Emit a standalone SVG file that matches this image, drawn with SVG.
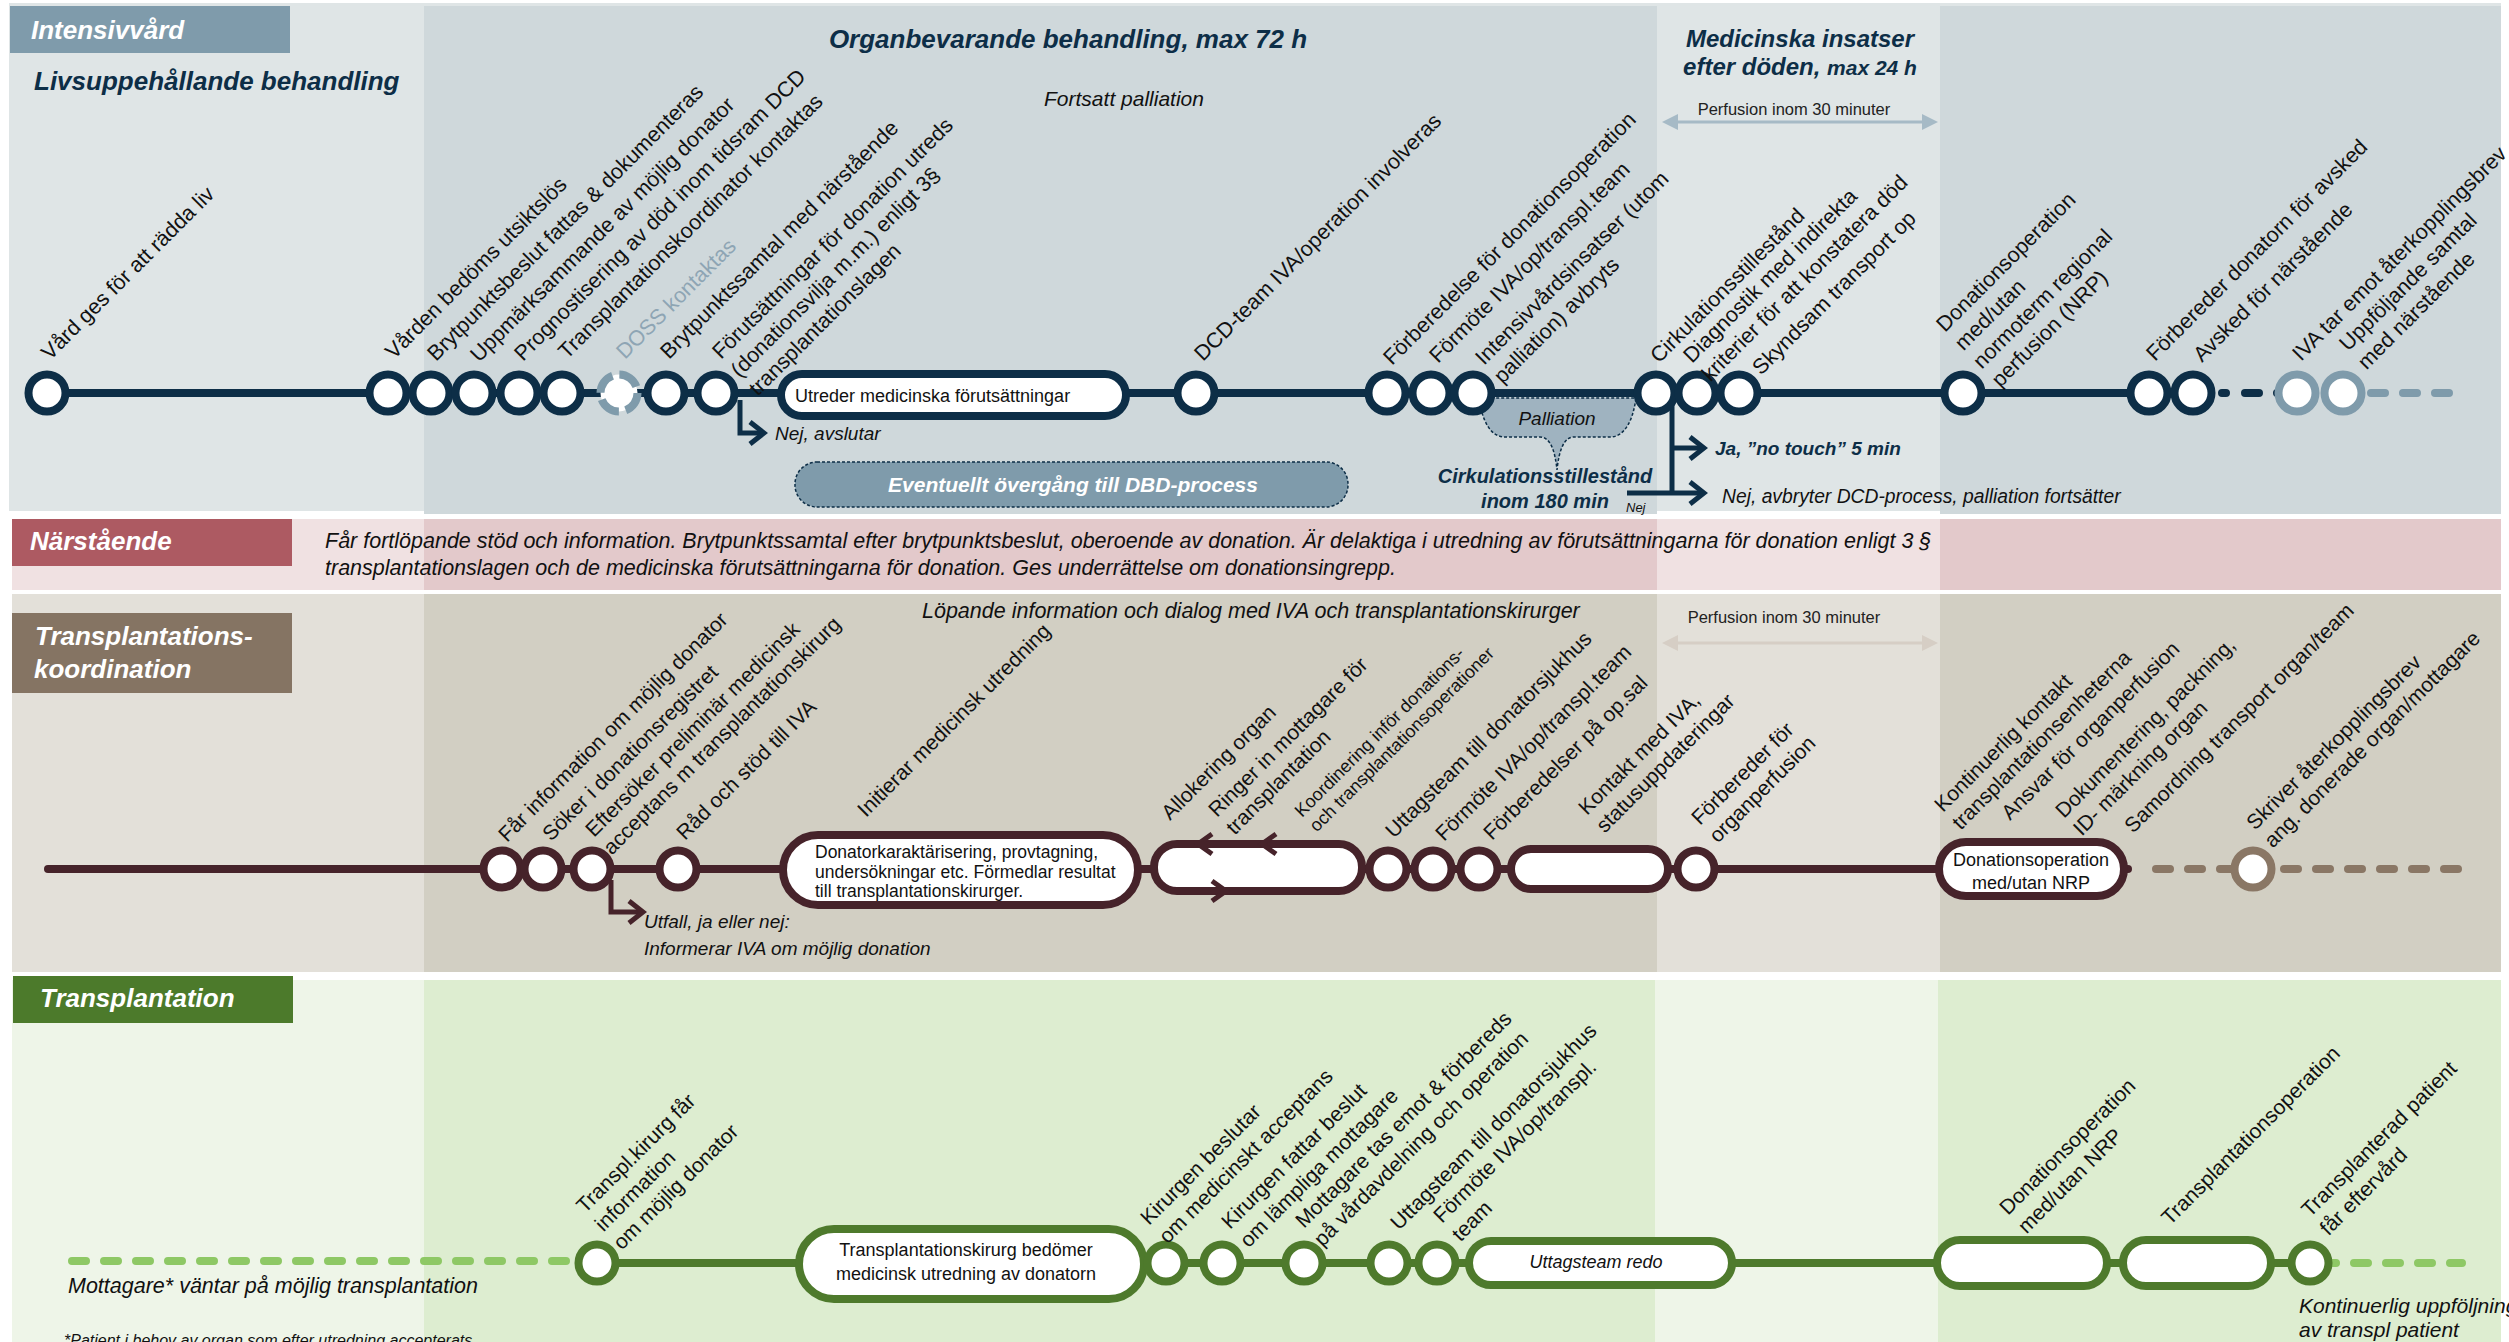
<svg xmlns="http://www.w3.org/2000/svg" width="2509" height="1342" viewBox="0 0 2509 1342">
<defs>
<style>
.t{font-family:"Liberation Sans",Arial,Helvetica,sans-serif}
.hd{font-family:"Liberation Sans",Arial,sans-serif;font-weight:bold;font-style:italic;font-size:26px;fill:#fff}
.ttl{font-family:"Liberation Sans",Arial,sans-serif;font-weight:bold;font-style:italic;fill:#0d2e47}
.l1{font-size:21.5px;fill:#111}
.l3{font-size:21px;fill:#111}
.l4{font-size:21px;fill:#111}
.it{font-style:italic}
.bx{font-size:18px;fill:#111}
.n1{fill:#fff;stroke:#0d2e47;stroke-width:8}
.n1g{fill:#fff;stroke:#7f9bab;stroke-width:8}
.n3{fill:#fff;stroke:#46232a;stroke-width:8}
.n3g{fill:#fff;stroke:#8a7765;stroke-width:8}
.n4{fill:#fff;stroke:#4e7a2c;stroke-width:8}
.ln1{stroke:#0d2e47;stroke-width:8;fill:none;stroke-linecap:round}
.ln3{stroke:#46232a;stroke-width:8;fill:none;stroke-linecap:round}
.ln4{stroke:#4e7a2c;stroke-width:8;fill:none;stroke-linecap:round}
.dash{stroke-width:8;fill:none;stroke-linecap:round;stroke-dasharray:14 18}
.arN{stroke:#0d2e47;stroke-width:5;fill:none}
.arM{stroke:#46232a;stroke-width:5;fill:none}
</style>
<marker id="chevN" viewBox="-18 -15 22 30" refX="0" refY="0" markerWidth="22" markerHeight="30" markerUnits="userSpaceOnUse" orient="auto">
<path d="M-14,-11 L0,0 L-14,11" fill="none" stroke="#0d2e47" stroke-width="5"/>
</marker>
<marker id="chevM" viewBox="-18 -15 22 30" refX="0" refY="0" markerWidth="22" markerHeight="30" markerUnits="userSpaceOnUse" orient="auto">
<path d="M-14,-11 L0,0 L-14,11" fill="none" stroke="#46232a" stroke-width="5"/>
</marker>
<marker id="triB" viewBox="0 -8 16 16" refX="0" refY="0" markerWidth="16" markerHeight="16" markerUnits="userSpaceOnUse" orient="auto-start-reverse">
<path d="M0,-8 L16,0 L0,8 Z" fill="#a6bac6"/>
</marker>
<marker id="triT" viewBox="0 -8 16 16" refX="0" refY="0" markerWidth="16" markerHeight="16" markerUnits="userSpaceOnUse" orient="auto-start-reverse">
<path d="M0,-8 L16,0 L0,8 Z" fill="#d6cec5"/>
</marker>
</defs>

<rect width="2509" height="1342" fill="#fff"/>

<!-- Band backgrounds -->
<g id="bands">
<rect x="9" y="3" width="2492" height="508" fill="#dfe5e6"/>
<rect x="424" y="6" width="1233" height="508" fill="#cfd8db"/>
<rect x="1940" y="6" width="561" height="508" fill="#cfd8db"/>
<rect x="12" y="519" width="2489" height="71" fill="#f0e1e2"/>
<rect x="424" y="519" width="1233" height="71" fill="#e3c9cb"/>
<rect x="1940" y="519" width="561" height="71" fill="#e3c9cb"/>
<rect x="12" y="594" width="2489" height="378" fill="#e3e0d9"/>
<rect x="424" y="594" width="1233" height="378" fill="#d2cfc3"/>
<rect x="1940" y="594" width="561" height="378" fill="#d2cfc3"/>
<rect x="12" y="980" width="2489" height="362" fill="#eef5e8"/>
<rect x="424" y="980" width="1231" height="362" fill="#ddedd0"/>
<rect x="1938" y="980" width="563" height="362" fill="#ddedd0"/>
</g>

<!-- Lane headers and titles -->
<g id="headers">
<rect x="10" y="6" width="280" height="47" fill="#7f9bab"/>
<text class="hd" x="31" y="39">Intensivvård</text>
<rect x="12" y="519" width="280" height="47" fill="#ad5a62"/>
<text class="hd" x="30" y="550">Närstående</text>
<rect x="12" y="613" width="280" height="80" fill="#857463"/>
<text class="hd" x="35" y="645">Transplantations-</text>
<text class="hd" x="34" y="678">koordination</text>
<rect x="13" y="976" width="280" height="47" fill="#4c7a2b"/>
<text class="hd" x="40" y="1007">Transplantation</text>
<text class="ttl" x="34" y="90" font-size="26">Livsuppehållande behandling</text>
<text class="ttl" x="1068" y="48" font-size="26" text-anchor="middle">Organbevarande behandling, max 72 h</text>
<text class="ttl" x="1800" y="47" font-size="24" text-anchor="middle">Medicinska insatser</text>
<text class="ttl" x="1800" y="75" font-size="24" text-anchor="middle">efter döden, <tspan font-size="21">max 24 h</tspan></text>
<text class="t it" x="1124" y="106" font-size="21" text-anchor="middle" fill="#111">Fortsatt palliation</text>
<text class="t" x="1794" y="115" font-size="16.5" text-anchor="middle" fill="#222">Perfusion inom 30 minuter</text>
<text class="t" x="1784" y="623" font-size="16.5" text-anchor="middle" fill="#222">Perfusion inom 30 minuter</text>
<text class="t it" x="325" y="548" font-size="21.5" fill="#111">Får fortlöpande stöd och information. Brytpunktssamtal efter brytpunktsbeslut, oberoende av donation. Är delaktiga i utredning av förutsättningarna för donation enligt 3 §</text>
<text class="t it" x="325" y="575" font-size="21.5" fill="#111">transplantationslagen och de medicinska förutsättningarna för donation. Ges underrättelse om donationsingrepp.</text>
<text class="t it" x="922" y="618" font-size="21.5" fill="#111">Löpande information och dialog med IVA och transplantationskirurger</text>
<text class="t it" x="68" y="1293" font-size="21.5" fill="#111">Mottagare* väntar på möjlig transplantation</text>
<text class="t it" x="64" y="1346" font-size="16" fill="#111">*Patient i behov av organ som efter utredning accepterats</text>
<text class="t it" x="2299" y="1313" font-size="21" fill="#111">Kontinuerlig uppföljning</text>
<text class="t it" x="2299" y="1337" font-size="21" fill="#111">av transpl patient</text>
</g>

<!-- Connectors -->
<g id="connectors">
<line x1="1678" y1="122" x2="1922" y2="122" stroke="#a6bac6" stroke-width="3" marker-start="url(#triB)" marker-end="url(#triB)"/>
<line x1="1678" y1="643" x2="1922" y2="643" stroke="#d6cec5" stroke-width="3" marker-start="url(#triT)" marker-end="url(#triT)"/>
<!-- lane 1 -->
<path class="ln1" d="M47,393 H2193"/>
<path class="ln1" d="M2222,393 H2226 M2245,393 H2259 M2277,393 H2278"/>
<path class="dash" stroke="#7f9bab" d="M2371,393 H2449"/>
<path class="arN" d="M740,400 V433 H764" marker-end="url(#chevN)"/>
<path class="arN" d="M1672,405 V493 M1672,448 H1704" marker-end="url(#chevN)"/>
<path class="arN" d="M1627,493 H1704" marker-end="url(#chevN)"/>
<!-- lane 3 -->
<path class="ln3" d="M48,869 H2128"/>
<path class="dash" stroke="#8a7765" d="M2156,869 H2458"/>
<path class="arM" d="M611,880 V912 H643" marker-end="url(#chevM)"/>
<!-- lane 4 -->
<path class="dash" stroke="#8ec865" d="M72,1261 H566"/>
<path class="ln4" d="M597,1263 H2310"/>
<path class="dash" stroke="#8ec865" d="M2322,1263 H2462"/>
</g>

<!-- Lane 1 extras -->
<g id="palliation">
<path d="M1479,398 C1482,420 1490,437 1505,437 L1540,437 C1550,437 1555,450 1557,470 C1559,450 1564,437 1574,437 L1610,437 C1625,437 1633,420 1636,398 Z" fill="#9fb3c0" stroke="#0d2e47" stroke-width="1.5" stroke-dasharray="3 2"/>
<text class="t it" x="1557" y="425" font-size="19" text-anchor="middle" fill="#111">Palliation</text>
</g>
<g id="cirk-180">
<text class="ttl" x="1545" y="483" font-size="20" text-anchor="middle">Cirkulationsstillestånd</text>
<text class="ttl" x="1545" y="508" font-size="20" text-anchor="middle">inom 180 min</text>
<text class="t it" x="1626" y="512" font-size="13" fill="#111">Nej</text>
</g>
<g id="branch-texts">
<text class="t it" x="775" y="440" font-size="19" fill="#111">Nej, avslutar</text>
<text class="ttl" x="1715" y="455" font-size="19">Ja, ”no touch” 5 min</text>
<text class="t it" x="1722" y="503" font-size="19.3" fill="#111">Nej, avbryter DCD-process, palliation fortsätter</text>
<text class="t it" x="644" y="928" font-size="19" fill="#111">Utfall, ja eller nej:</text>
<text class="t it" x="644" y="955" font-size="19" fill="#111">Informerar IVA om möjlig donation</text>
</g>
<g id="dbd">
<rect x="795" y="462" width="553" height="45" rx="22" fill="#7f9bab" stroke="#0d2e47" stroke-width="1.5" stroke-dasharray="3 2"/>
<text class="ttl" x="1073" y="492" font-size="21" text-anchor="middle" style="fill:#fff">Eventuellt övergång till DBD-process</text>
</g>

<!-- Lane 1 nodes -->
<g id="iva-1"><circle class="n1" cx="47" cy="393" r="18.5"/><text class="t l1" transform="translate(50,361) rotate(-45)">Vård ges för att rädda liv</text></g>
<g id="iva-2"><circle class="n1" cx="388" cy="393" r="18.5"/><text class="t l1" transform="translate(394,360) rotate(-45)">Vården bedöms utsiktslös</text></g>
<g id="iva-3"><circle class="n1" cx="431" cy="393" r="18.5"/><text class="t l1" transform="translate(436,362) rotate(-45)">Brytpunktsbeslut fattas &amp; dokumenteras</text></g>
<g id="iva-4"><circle class="n1" cx="474" cy="393" r="18.5"/><text class="t l1" transform="translate(479,363) rotate(-45)">Uppmärksammande av möjlig donator</text></g>
<g id="iva-5"><circle class="n1" cx="519" cy="393" r="18.5"/><text class="t l1" transform="translate(523,362) rotate(-45)">Prognostisering av död inom tidsram DCD</text></g>
<g id="iva-6"><circle class="n1" cx="562" cy="393" r="18.5"/><text class="t l1" transform="translate(567,360) rotate(-45)">Transplantationskoordinator kontaktas</text></g>
<g id="iva-7"><circle class="n1g" cx="619" cy="393" r="18.5" stroke-dasharray="22 7"/><text class="t l1" transform="translate(625,360) rotate(-45)" style="fill:#8ea5b4">DOSS kontaktas</text></g>
<g id="iva-8"><circle class="n1" cx="666" cy="393" r="18.5"/><text class="t l1" transform="translate(669,360) rotate(-45)">Brytpunktssamtal med närstående</text></g>
<g id="iva-9"><circle class="n1" cx="716" cy="393" r="18.5"/><text class="t l1" transform="translate(721,360) rotate(-45)"><tspan x="0" y="0">Förutsättningar för donation utreds</tspan><tspan x="0" y="26">(donationsvilja m.m.) enligt 3§</tspan><tspan x="0" y="52">transplantationslagen</tspan></text></g>
<g id="iva-utreder"><rect class="n1" x="781" y="374" width="345" height="42" rx="21"/><text class="t bx" x="795" y="402" font-size="18.5">Utreder medicinska förutsättningar</text></g>
<g id="iva-10"><circle class="n1" cx="1196" cy="393" r="18.5"/><text class="t l1" transform="translate(1203,362) rotate(-45)">DCD-team IVA/operation involveras</text></g>
<g id="iva-11"><circle class="n1" cx="1387" cy="393" r="18.5"/><text class="t l1" transform="translate(1392,366) rotate(-45)">Förberedelse för donationsoperation</text></g>
<g id="iva-12"><circle class="n1" cx="1431" cy="393" r="18.5"/><text class="t l1" transform="translate(1438,364) rotate(-45)">Förmöte IVA/op/transpl.team</text></g>
<g id="iva-13"><circle class="n1" cx="1473" cy="393" r="18.5"/><text class="t l1" transform="translate(1484,366) rotate(-45)"><tspan x="0" y="0">Intensivvårdsinsatser (utom</tspan><tspan x="0" y="26">palliation) avbryts</tspan></text></g>
<g id="iva-14"><circle class="n1" cx="1656" cy="393" r="18.5"/><text class="t l1" transform="translate(1659,364) rotate(-45)">Cirkulationsstillestånd</text></g>
<g id="iva-15"><circle class="n1" cx="1697" cy="393" r="18.5"/><text class="t l1" transform="translate(1692,364) rotate(-45)"><tspan x="0" y="0">Diagnostik med indirekta</tspan><tspan x="0" y="26">kriterier för att konstatera död</tspan></text></g>
<g id="iva-16"><circle class="n1" cx="1739" cy="393" r="18.5"/><text class="t l1" transform="translate(1761,376) rotate(-45)">Skyndsam transport op</text></g>
<g id="iva-17"><circle class="n1" cx="1963" cy="393" r="18.5"/><text class="t l1" transform="translate(1945,333) rotate(-45)"><tspan x="0" y="0">Donationsoperation</tspan><tspan x="0" y="26">med/utan</tspan><tspan x="0" y="52">normoterm regional</tspan><tspan x="0" y="78">perfusion (NRP)</tspan></text></g>
<g id="iva-18"><circle class="n1" cx="2149" cy="393" r="18.5"/><text class="t l1" transform="translate(2155,362) rotate(-45)">Förbereder donatorn för avsked</text></g>
<g id="iva-19"><circle class="n1" cx="2193" cy="393" r="18.5"/><text class="t l1" transform="translate(2202,363) rotate(-45)">Avsked för närstående</text></g>
<g id="iva-20"><circle class="n1g" cx="2297" cy="393" r="18.5"/><text class="t l1" transform="translate(2301,362) rotate(-45)">IVA tar emot återkopplingsbrev</text></g>
<g id="iva-21"><circle class="n1g" cx="2343" cy="393" r="18.5"/><text class="t l1" transform="translate(2348,352) rotate(-45)"><tspan x="0" y="0">Uppföljande samtal</tspan><tspan x="0" y="26">med närstående</tspan></text></g>

<!-- Lane 3 nodes -->
<g id="tk-1"><circle class="n3" cx="502" cy="869" r="18.5"/><text class="t l3" transform="translate(507,843) rotate(-45)">Får information om möjlig donator</text></g>
<g id="tk-2"><circle class="n3" cx="543" cy="869" r="18.5"/><text class="t l3" transform="translate(551,842) rotate(-45)">Söker i donationsregistret</text></g>
<g id="tk-3"><circle class="n3" cx="592" cy="869" r="18.5"/><text class="t l3" transform="translate(594,838) rotate(-45)"><tspan x="0" y="0">Eftersöker preliminär medicinsk</tspan><tspan x="0" y="25">acceptans m transplantationskirurg</tspan></text></g>
<g id="tk-4"><circle class="n3" cx="678" cy="869" r="18.5"/><text class="t l3" transform="translate(685,841) rotate(-45)">Råd och stöd till IVA</text></g>
<g id="tk-donator"><rect class="n3" x="783" y="835" width="355" height="70" rx="35"/>
<text class="t" font-size="17.5" fill="#111"><tspan x="815" y="858">Donatorkaraktärisering, provtagning,</tspan><tspan x="815" y="878">undersökningar etc. Förmedlar resultat</tspan><tspan x="815" y="897">till transplantationskirurger.</tspan></text>
<text class="t l3" transform="translate(866,818) rotate(-45)">Initierar medicinsk utredning</text></g>
<g id="tk-allokering"><rect class="n3" x="1154" y="844" width="208" height="47" rx="23"/>
<path class="arM" d="M1212,834 L1198,844 L1212,854 M1198,844 H1240"/>
<path class="arM" d="M1276,834 L1262,844 L1276,854"/>
<path class="arM" d="M1212,881 L1226,891 L1212,901 M1196,891 H1226"/>
<text class="t l3" transform="translate(1170,821) rotate(-45)">Allokering organ</text>
<text class="t l3" transform="translate(1217,818) rotate(-45)"><tspan x="0" y="0">Ringer in mottagare för</tspan><tspan x="0" y="25">transplantation</tspan></text></g>
<g id="tk-koordinering"><text class="t" font-size="18" fill="#111" transform="translate(1302,818) rotate(-45)"><tspan x="0" y="0">Koordinering inför donations-</tspan><tspan x="0" y="21">och transplantationsoperationer</tspan></text></g>
<g id="tk-5"><circle class="n3" cx="1388" cy="869" r="18.5"/><text class="t l3" transform="translate(1394,839) rotate(-45)">Uttagsteam till donatorsjukhus</text></g>
<g id="tk-6"><circle class="n3" cx="1433" cy="869" r="18.5"/><text class="t l3" transform="translate(1444,842) rotate(-45)">Förmöte IVA/op/transpl.team</text></g>
<g id="tk-7"><circle class="n3" cx="1479" cy="869" r="18.5"/><text class="t l3" transform="translate(1492,841) rotate(-45)">Förberedelser på op.sal</text></g>
<g id="tk-kontakt"><rect class="n3" x="1511" y="849" width="157" height="40" rx="20"/><text class="t l3" transform="translate(1587,816) rotate(-45)"><tspan x="0" y="0">Kontakt med IVA,</tspan><tspan x="0" y="25">statusuppdateringar</tspan></text></g>
<g id="tk-8"><circle class="n3" cx="1696" cy="869" r="18.5"/><text class="t l3" transform="translate(1700,826) rotate(-45)"><tspan x="0" y="0">Förbereder för</tspan><tspan x="0" y="25">organperfusion</tspan></text></g>
<g id="tk-nrp"><rect class="n3" x="1939" y="842" width="185" height="54" rx="27"/>
<text class="t bx" text-anchor="middle"><tspan x="2031" y="866">Donationsoperation</tspan><tspan x="2031" y="889">med/utan NRP</tspan></text>
<text class="t l3" transform="translate(1943,813) rotate(-45)"><tspan x="0" y="0">Kontinuerlig kontakt</tspan><tspan x="0" y="25">transplantationsenheterna</tspan></text>
<text class="t l3" transform="translate(2010,821) rotate(-45)">Ansvar för organperfusion</text>
<text class="t l3" transform="translate(2064,819) rotate(-45)"><tspan x="0" y="0">Dokumentering, packning,</tspan><tspan x="0" y="25">ID- märkning organ</tspan></text>
<text class="t l3" transform="translate(2133,834) rotate(-45)">Samordning transport organ/team</text></g>
<g id="tk-9"><circle class="n3g" cx="2253" cy="869" r="18.5"/><text class="t l3" transform="translate(2255,831) rotate(-45)"><tspan x="0" y="0">Skriver återkopplingsbrev</tspan><tspan x="0" y="25">ang. donerade organ/mottagare</tspan></text></g>

<!-- Lane 4 nodes -->
<g id="tx-1"><circle class="n4" cx="597" cy="1263" r="18.5"/><text class="t l4" transform="translate(585,1214) rotate(-45)"><tspan x="0" y="0">Transpl.kirurg får</tspan><tspan x="0" y="26">information</tspan><tspan x="0" y="52">om möjlig donator</tspan></text></g>
<g id="tx-bedomer"><rect class="n4" x="799" y="1229" width="345" height="70" rx="35"/><text class="t bx" font-size="18.5" text-anchor="middle"><tspan x="966" y="1256">Transplantationskirurg bedömer</tspan><tspan x="966" y="1280">medicinsk utredning av donatorn</tspan></text></g>
<g id="tx-2"><circle class="n4" cx="1166" cy="1263" r="18.5"/><text class="t l4" transform="translate(1149,1226) rotate(-45)"><tspan x="0" y="0">Kirurgen beslutar</tspan><tspan x="0" y="26">om medicinskt acceptans</tspan></text></g>
<g id="tx-3"><circle class="n4" cx="1222" cy="1263" r="18.5"/><text class="t l4" transform="translate(1230,1230) rotate(-45)"><tspan x="0" y="0">Kirurgen fattar beslut</tspan><tspan x="0" y="26">om lämpliga mottagare</tspan></text></g>
<g id="tx-4"><circle class="n4" cx="1304" cy="1263" r="18.5"/><text class="t l4" transform="translate(1304,1229) rotate(-45)"><tspan x="0" y="0">Mottagare tas emot &amp; förbereds</tspan><tspan x="0" y="26">på vårdavdelning och operation</tspan></text></g>
<g id="tx-5"><circle class="n4" cx="1389" cy="1263" r="18.5"/><text class="t l4" transform="translate(1399,1231) rotate(-45)">Uttagsteam till donatorsjukhus</text></g>
<g id="tx-6"><circle class="n4" cx="1437" cy="1263" r="18.5"/><text class="t l4" transform="translate(1442,1224) rotate(-45)"><tspan x="0" y="0">Förmöte IVA/op/transpl.</tspan><tspan x="0" y="26">team</tspan></text></g>
<g id="tx-redo"><rect class="n4" x="1469" y="1241" width="263" height="44" rx="22"/><text class="t bx it" x="1596" y="1268" text-anchor="middle">Uttagsteam redo</text></g>
<g id="tx-donation"><rect class="n4" x="1937" y="1240" width="170" height="46" rx="23"/><text class="t l4" transform="translate(2008,1216) rotate(-45)"><tspan x="0" y="0">Donationsoperation</tspan><tspan x="0" y="26">med/utan NRP</tspan></text></g>
<g id="tx-transpl"><rect class="n4" x="2123" y="1240" width="148" height="46" rx="23"/><text class="t l4" transform="translate(2170,1226) rotate(-45)">Transplantationsoperation</text></g>
<g id="tx-7"><circle class="n4" cx="2310" cy="1263" r="18.5"/><text class="t l4" transform="translate(2310,1218) rotate(-45)"><tspan x="0" y="0">Transplanterad patient</tspan><tspan x="0" y="26">får eftervård</tspan></text></g>
</svg>
